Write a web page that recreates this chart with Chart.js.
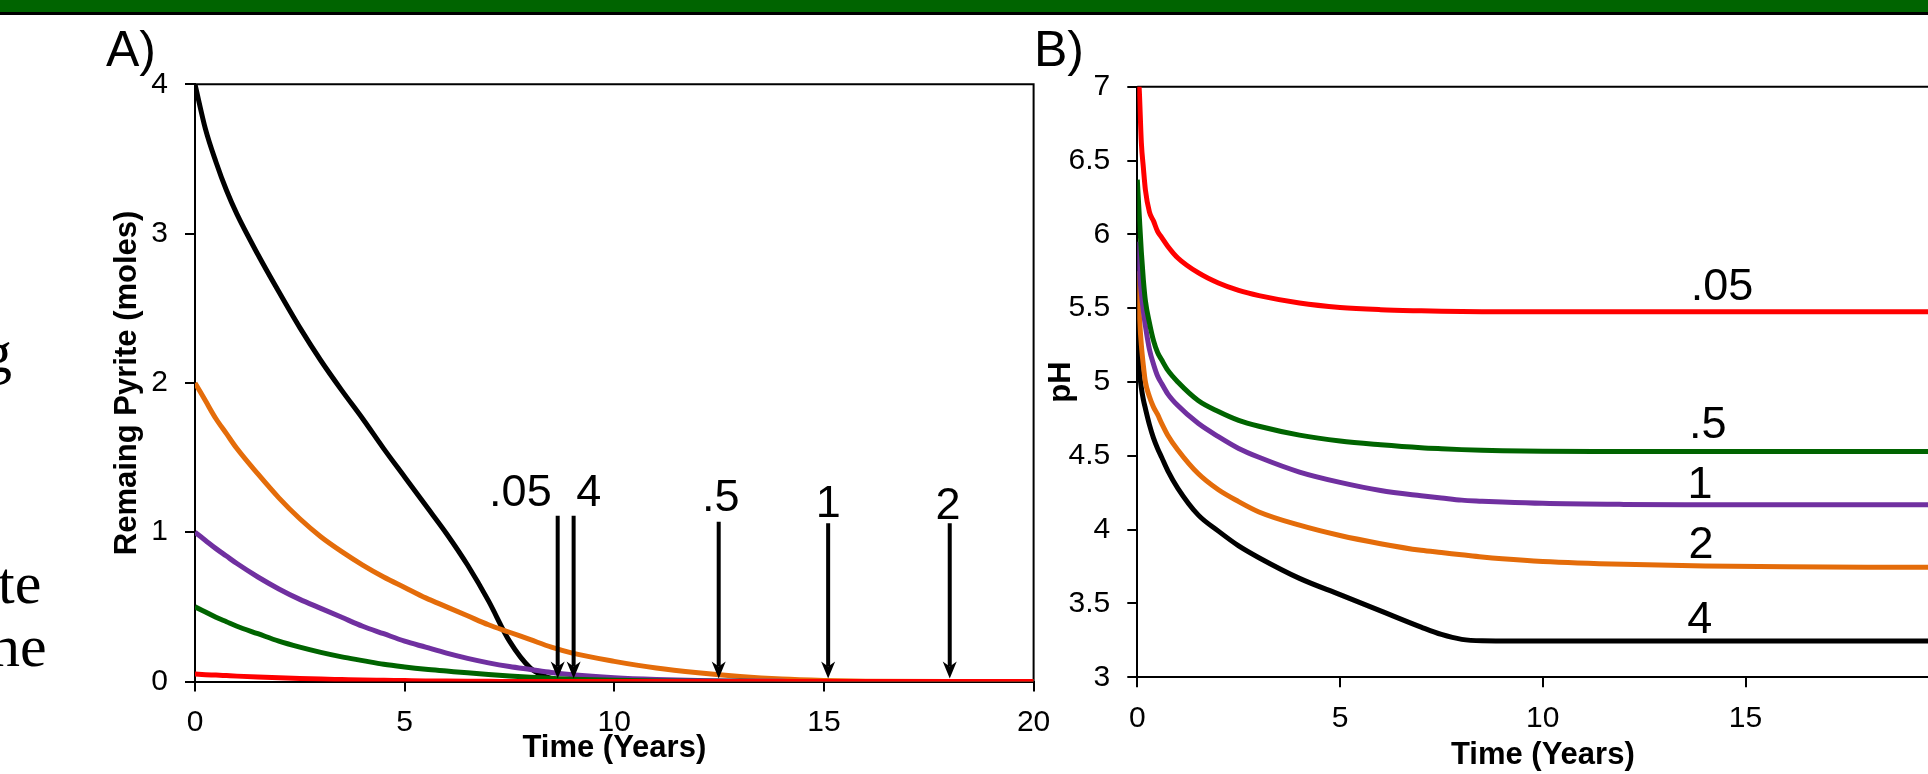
<!DOCTYPE html>
<html>
<head>
<meta charset="utf-8">
<script src="https://cdn.jsdelivr.net/npm/chart.js@4.4.0/dist/chart.umd.min.js"></script>
<style>
    html, body { margin: 0; padding: 0; width: 1928px; height: 774px; overflow: hidden; background: #fff; }
    #banner { position: absolute; left: 0; top: 0; width: 1928px; height: 12px; background: #006400; border-bottom: 3px solid #000; }
    .panelTag { position: absolute; font-family: "Liberation Sans", Arial, sans-serif; font-size: 50px; line-height: 1; color: #000; }
    .slideText { position: absolute; font-family: "Liberation Serif", "Times New Roman", serif; font-size: 60px; line-height: 1; color: #000; }
    canvas { position: absolute; }
</style>
</head>
<body>
<div id="banner"></div>
<!-- restos del texto de la diapositiva, cortados por el borde -->
<div class="slideText" style="left:-18px; top:322px;">g</div>
<div class="slideText" style="left:-2px; top:553px;">te</div>
<div class="slideText" style="left:-10px; top:616px;">ne</div>

<div class="panelTag" style="left:106px; top:24px;">A)</div>
<div class="panelTag" style="left:1034px; top:24px;">B)</div>

<canvas id="chartA" width="1010" height="734" style="left:60px; top:40px;"></canvas>
<canvas id="chartB" width="1000" height="734" style="left:1000px; top:40px;"></canvas>

<script>
// [DATA] Panel A: pirita restante (moles) vs tiempo (años)
const timeA = [0, 0.25, 0.5, 0.75, 1, 1.5, 2, 2.5, 3, 3.5, 4, 4.5, 5, 5.5, 6, 6.5, 7, 7.5, 8, 8.5, 9, 10, 11, 12, 13, 14, 15, 16, 18, 20];
const pyrite4 = [4.00, 3.70, 3.48, 3.29, 3.13, 2.86, 2.61, 2.37, 2.15, 1.95, 1.76, 1.56, 1.37, 1.18, 0.99, 0.78, 0.54, 0.27, 0.09, 0.02, 0, 0, 0, 0, 0, 0, 0, 0, 0, 0];
const pyrite2 = [2.00, 1.88, 1.76, 1.66, 1.56, 1.39, 1.23, 1.09, 0.97, 0.87, 0.78, 0.70, 0.63, 0.56, 0.50, 0.44, 0.38, 0.33, 0.28, 0.23, 0.19, 0.135, 0.09, 0.058, 0.033, 0.016, 0.007, 0.002, 0, 0];
const pyrite1 = [1.00, 0.945, 0.89, 0.84, 0.79, 0.70, 0.62, 0.55, 0.49, 0.43, 0.37, 0.32, 0.27, 0.23, 0.19, 0.155, 0.125, 0.10, 0.08, 0.06, 0.045, 0.025, 0.013, 0.006, 0.003, 0.001, 0, 0, 0, 0];
const pyrite05 = [0.50, 0.465, 0.43, 0.40, 0.37, 0.32, 0.27, 0.23, 0.195, 0.165, 0.14, 0.115, 0.097, 0.082, 0.07, 0.058, 0.047, 0.037, 0.028, 0.021, 0.015, 0.008, 0.004, 0.002, 0.001, 0, 0, 0, 0, 0];
const pyrite005 = [0.05, 0.046, 0.043, 0.0395, 0.036, 0.03, 0.025, 0.02, 0.016, 0.013, 0.01, 0.008, 0.006, 0.004, 0.003, 0.002, 0.001, 0.0005, 0, 0, 0, 0, 0, 0, 0, 0, 0, 0, 0, 0];

// flechas: tiempo de agotamiento, altura de la flecha y etiqueta
const arrowTime = [8.65, 9.03, 12.49, 15.1, 18.0];
const arrowTop = [1.11, 1.11, 1.07, 1.06, 1.06];
const arrowTip = 0.02;
const arrowText = ['.05', '4', '.5', '1', '2'];
const arrowTextTime = [7.76, 9.39, 12.54, 15.1, 17.96];
const arrowTextVal = [1.175, 1.175, 1.144, 1.104, 1.088];

// [DATA] Panel B: pH vs tiempo (años)
const timeB = [0, 0.05, 0.1, 0.15, 0.2, 0.3, 0.4, 0.5, 0.6, 0.75, 1, 1.5, 2, 2.5, 3, 4, 5, 6, 7, 7.5, 8, 8.5, 9, 10, 12, 14, 16, 18, 20];
const ph005 = [7.20, 6.97, 6.62, 6.45, 6.30, 6.15, 6.09, 6.02, 5.98, 5.92, 5.84, 5.74, 5.67, 5.62, 5.585, 5.535, 5.505, 5.49, 5.482, 5.479, 5.477, 5.476, 5.476, 5.476, 5.476, 5.476, 5.476, 5.476, 5.476];
const ph05 = [6.37, 6.12, 5.88, 5.69, 5.55, 5.40, 5.28, 5.20, 5.15, 5.08, 5.00, 4.875, 4.80, 4.74, 4.70, 4.64, 4.60, 4.575, 4.555, 4.548, 4.542, 4.537, 4.534, 4.531, 4.53, 4.53, 4.53, 4.53, 4.53];
const ph1 = [5.95, 5.75, 5.60, 5.48, 5.38, 5.22, 5.12, 5.04, 4.99, 4.92, 4.84, 4.72, 4.63, 4.55, 4.49, 4.39, 4.32, 4.265, 4.23, 4.215, 4.20, 4.193, 4.187, 4.178, 4.171, 4.169, 4.168, 4.168, 4.168];
const ph2 = [5.75, 5.45, 5.25, 5.11, 5.00, 4.90, 4.83, 4.78, 4.72, 4.64, 4.54, 4.38, 4.27, 4.19, 4.12, 4.03, 3.96, 3.905, 3.86, 3.845, 3.83, 3.815, 3.803, 3.785, 3.765, 3.754, 3.748, 3.746, 3.746];
const ph4 = [5.35, 5.08, 4.96, 4.88, 4.82, 4.71, 4.62, 4.55, 4.49, 4.40, 4.28, 4.10, 3.99, 3.89, 3.81, 3.67, 3.56, 3.45, 3.34, 3.29, 3.257, 3.247, 3.246, 3.246, 3.246, 3.246, 3.246, 3.246, 3.246];

// etiquetas de las curvas en B
const curveText = ['.05', '.5', '1', '2', '4'];
const curveTextTime = [14.42, 14.07, 13.88, 13.9, 13.87];
const curveTextPh = [5.555, 4.619, 4.212, 3.806, 3.298];

// [STYLE]
const FONT = '"Liberation Sans", Arial, sans-serif';
const COLORS = { '.05': '#ff0000', '.5': '#006400', '1': '#7030a0', '2': '#e46c0a', '4': '#000000' };

const toPoints = (ts, vs) => ts.map((t, i) => ({ x: t, y: vs[i] }));

function makeDatasets(ts, list) {
    // el primero se dibuja encima (rojo arriba)
    return list.map(([name, vals]) => ({
        label: name,
        data: toPoints(ts, vals),
        borderColor: COLORS[name],
        borderWidth: 5,
        pointRadius: 0,
        fill: false,
        cubicInterpolationMode: 'monotone'
    }));
}

// marco superior y derecho del área de trazado
const framePlugin = {
    id: 'frame',
    beforeDatasetsDraw(chart) {
        const { ctx, chartArea: a } = chart;
        ctx.save();
        ctx.strokeStyle = '#000';
        ctx.lineWidth = 2;
        ctx.beginPath();
        ctx.moveTo(a.left, a.top);
        ctx.lineTo(a.right, a.top);
        ctx.lineTo(a.right, a.bottom);
        ctx.stroke();
        ctx.restore();
    }
};

const arrowPlugin = {
    id: 'arrows',
    afterDatasetsDraw(chart) {
        const { ctx, scales: { x, y } } = chart;
        ctx.save();
        ctx.fillStyle = '#000';
        ctx.strokeStyle = '#000';
        ctx.lineWidth = 4;
        arrowTime.forEach((t, i) => {
            const px = x.getPixelForValue(t);
            const top = y.getPixelForValue(arrowTop[i]);
            const tip = y.getPixelForValue(arrowTip);
            ctx.beginPath();
            ctx.moveTo(px, top);
            ctx.lineTo(px, tip - 12);
            ctx.stroke();
            ctx.beginPath();
            ctx.moveTo(px, tip);
            ctx.lineTo(px - 7, tip - 17);
            ctx.lineTo(px, tip - 12);
            ctx.lineTo(px + 7, tip - 17);
            ctx.closePath();
            ctx.fill();
        });
        ctx.font = `45px ${FONT}`;
        ctx.textAlign = 'center';
        ctx.textBaseline = 'alphabetic';
        arrowText.forEach((txt, i) => {
            ctx.fillText(txt, x.getPixelForValue(arrowTextTime[i]), y.getPixelForValue(arrowTextVal[i]));
        });
        ctx.restore();
    }
};

const curveLabelPlugin = {
    id: 'curveLabels',
    afterDatasetsDraw(chart) {
        const { ctx, scales: { x, y } } = chart;
        ctx.save();
        ctx.fillStyle = '#000';
        ctx.font = `45px ${FONT}`;
        ctx.textAlign = 'center';
        ctx.textBaseline = 'alphabetic';
        curveText.forEach((txt, i) => {
            ctx.fillText(txt, x.getPixelForValue(curveTextTime[i]), y.getPixelForValue(curveTextPh[i]));
        });
        ctx.restore();
    }
};

function buildOptions(p) {
    return {
        responsive: false,
        animation: false,
        devicePixelRatio: 1,
        layout: { padding: { left: 0, top: p.padTop, right: p.padRight, bottom: 0 } },
        plugins: { legend: { display: false }, tooltip: { enabled: false } },
        scales: {
            x: {
                type: 'linear',
                min: 0,
                max: 20,
                ticks: { stepSize: 5, color: '#000', font: { family: FONT, size: 30 }, padding: 13, maxRotation: 0, autoSkip: false, callback: v => String(v) },
                grid: { drawOnChartArea: false, tickLength: 10, color: '#000', lineWidth: 2 },
                border: { color: '#000', width: 2 },
                title: { display: true, text: 'Time (Years)', color: '#000', font: { family: FONT, size: 31, weight: 'bold' }, padding: { top: 0, bottom: p.xTitlePad } },
                afterFit: s => { s.height = p.xAxisHeight; }
            },
            y: {
                type: 'linear',
                min: p.yMin,
                max: p.yMax,
                ticks: { stepSize: p.yStep, color: '#000', font: { family: FONT, size: 30 }, padding: 17, callback: v => String(v) },
                grid: { drawOnChartArea: false, tickLength: 10, color: '#000', lineWidth: 2 },
                border: { color: '#000', width: 2 },
                title: { display: true, text: p.yTitle, color: '#000', font: { family: FONT, size: 31, weight: 'bold' }, padding: { top: p.yTitlePad, bottom: 0 } },
                afterFit: s => { s.width = p.yAxisWidth; }
            }
        }
    };
}

// Panel A
new Chart(document.getElementById('chartA'), {
    type: 'line',
    data: {
        datasets: makeDatasets(timeA, [
            ['.05', pyrite005], ['.5', pyrite05], ['1', pyrite1], ['2', pyrite2], ['4', pyrite4]
        ])
    },
    options: buildOptions({
        padTop: 44.3, padRight: 36.4, xAxisHeight: 92.5, yAxisWidth: 135,
        xTitlePad: 7, yTitlePad: 49,
        yMin: 0, yMax: 4, yStep: 1, yTitle: 'Remaing Pyrite (moles)'
    }),
    plugins: [framePlugin, arrowPlugin]
});

// Panel B (el eje llega a 20 pero queda cortado por el borde de la imagen)
new Chart(document.getElementById('chartB'), {
    type: 'line',
    data: {
        datasets: makeDatasets(timeB, [
            ['.05', ph005], ['.5', ph05], ['1', ph1], ['2', ph2], ['4', ph4]
        ])
    },
    options: buildOptions({
        padTop: 46.7, padRight: 51.7, xAxisHeight: 96.7, yAxisWidth: 137.3,
        xTitlePad: 0, yTitlePad: 43,
        yMin: 3, yMax: 7, yStep: 0.5, yTitle: 'pH'
    }),
    plugins: [framePlugin, curveLabelPlugin]
});
</script>
</body>
</html>
